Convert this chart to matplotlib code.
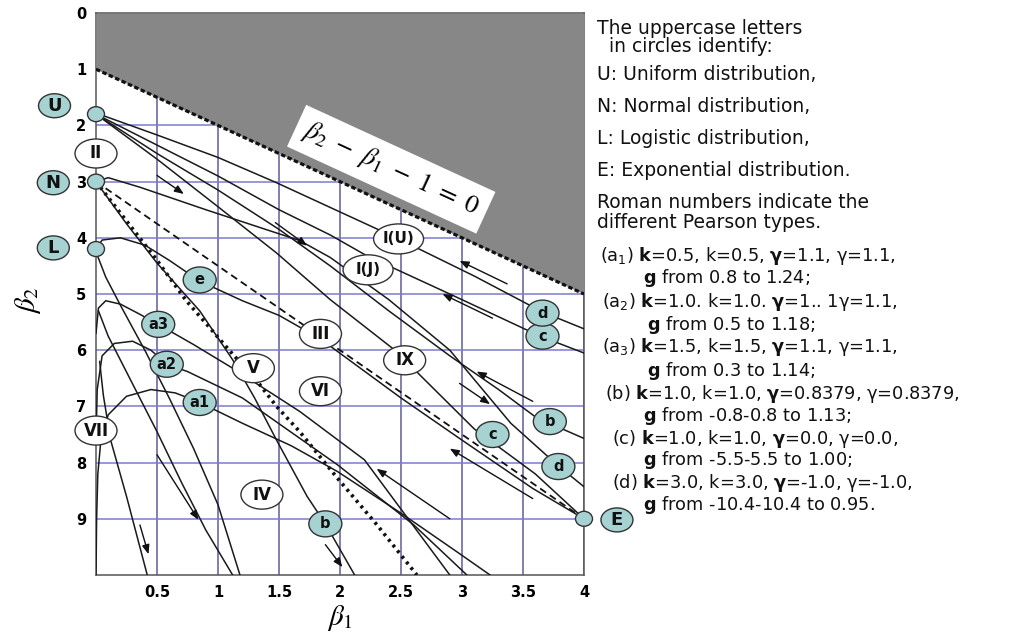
import numpy as np
import matplotlib
matplotlib.use('Agg')
import matplotlib.pyplot as plt
from matplotlib.patches import Ellipse

plt.rcParams.update({
    'font.family': 'DejaVu Sans',
    'mathtext.fontset': 'custom',
    'mathtext.rm': 'DejaVu Sans',
    'mathtext.bf': 'DejaVu Sans:bold',
    'mathtext.it': 'DejaVu Sans:italic',
})

# Limit line and the two Pearson reference lines (beta1, beta2)
limit_b1 = [0, 4]
limit_b2 = [1, 5]
type3_b1 = [0, 4]
type3_b2 = [3, 9]
type5_curve = [(0, 3), (0.25, 3.7), (0.5, 4.4), (0.74, 5.12), (1.12, 6.07), (1.32, 6.55),
               (1.48, 7.0), (1.67, 7.45), (1.98, 8.28), (2.3, 9.1), (2.63, 10)]

# Trajectories
iu_curve = [(0, 1.78), (0.5, 2.17), (1.0, 2.57), (1.48, 3.02), (2.08, 3.62), (2.48, 4.02),
            (3.1, 4.68), (3.66, 5.32), (4.0, 5.62)]
ij_curve = [(0, 1.8), (0.5, 2.35), (1.0, 2.9), (1.5, 3.5), (1.92, 3.95), (2.22, 4.32),
            (2.9, 5.0), (3.64, 5.75), (4.0, 6.05)]
ix_curve = [(0, 1.8), (0.5, 2.6), (0.99, 3.43), (1.48, 4.27), (1.92, 5.1), (2.45, 6.0),
            (3.1, 7.4), (3.6, 8.2), (4.0, 9.0)]
b_right_curve = [(0, 1.8), (0.5, 2.5), (1.0, 3.15), (1.5, 3.85), (1.92, 4.5), (2.4, 5.3),
                 (2.9, 6.1), (3.3, 6.7), (3.61, 7.2), (4.0, 7.57)]
d_low_curve = [(0, 3), (0.1, 2.93), (0.36, 3.1), (0.9, 3.5), (1.67, 4.05), (1.92, 4.35),
               (2.4, 5.1), (2.9, 6.0), (3.4, 7.3), (3.78, 8.04), (4.0, 8.43)]
e_curve = [(0, 4.2), (0.05, 4.04), (0.2, 4.0), (0.4, 4.13), (0.6, 4.4), (0.85, 4.77),
           (1.2, 5.12), (1.5, 5.38), (1.84, 5.8), (2.5, 6.85), (3.0, 7.6), (3.58, 8.46), (4.0, 9.0)]
b_low_curve = [(0, 3), (0.25, 3.75), (0.5, 4.45), (0.85, 5.3), (1.12, 6.17), (1.3, 6.85),
               (1.48, 7.6), (1.73, 8.6), (1.88, 9.09), (2.12, 10)]
a1_curve = [(0.0, 10), (0.005, 9.0), (0.015, 8.2), (0.04, 7.6), (0.1, 7.15), (0.25, 6.82),
            (0.45, 6.7), (0.65, 6.76), (0.85, 6.93), (1.2, 7.3), (1.6, 7.7), (1.98, 8.16),
            (2.5, 8.9), (2.96, 9.59), (3.23, 10)]
a2_curve = [(0.0, 7.6), (0.01, 6.7), (0.05, 6.1), (0.15, 5.88), (0.3, 5.84), (0.45, 6.0),
            (0.58, 6.25), (0.75, 6.38), (1.2, 6.85), (1.98, 8.04), (2.6, 9.1), (3.04, 10)]
a3_curve = [(0.0, 5.7), (0.02, 5.25), (0.08, 5.12), (0.2, 5.18), (0.35, 5.35), (0.51, 5.54),
            (0.8, 5.9), (1.12, 6.32), (1.67, 7.09), (2.2, 7.95), (2.9, 10)]
steep1_curve = [(0, 4.25), (0.08, 4.7), (0.2, 5.2), (0.4, 6.0), (0.6, 6.85), (0.8, 7.75),
                (1.0, 8.75), (1.18, 10)]
steep2_curve = [(0.02, 5.3), (0.1, 5.75), (0.3, 6.6), (0.5, 7.45), (0.7, 8.35), (0.9, 9.2),
                (1.12, 10)]
steep3_curve = [(0.03, 6.2), (0.06, 6.8), (0.12, 7.6), (0.25, 8.6), (0.42, 10)]

# Short direction arrows: start -> end
arrow_from_b1 = [0.5, 1.47, 3.37, 3.25, 3.58, 2.98, 3.58, 2.9, 1.88, 0.36, 0.5]
arrow_from_b2 = [2.89, 3.73, 4.82, 5.43, 6.91, 6.59, 8.64, 9.0, 9.46, 9.11, 7.86]
arrow_to_b1 = [0.72, 1.73, 2.98, 2.84, 3.12, 3.23, 2.9, 2.3, 2.02, 0.43, 0.84]
arrow_to_b2 = [3.22, 4.14, 4.41, 5.0, 6.38, 6.96, 7.75, 8.11, 9.86, 9.63, 9.02]

# Labels in circles
roman_text = ['II', 'VII', 'V', 'IV', 'VI', 'III', 'IX', 'I(U)', 'I(J)']
roman_b1 = [0.0, 0.0, 1.29, 1.36, 1.84, 1.84, 2.53, 2.48, 2.23]
roman_b2 = [2.5, 7.43, 6.32, 8.57, 6.73, 5.71, 6.18, 4.02, 4.57]
case_text = ['e', 'a3', 'a2', 'a1', 'b', 'b', 'c', 'c', 'd', 'd']
case_b1 = [0.85, 0.51, 0.58, 0.85, 1.88, 3.72, 3.25, 3.66, 3.79, 3.66]
case_b2 = [4.75, 5.54, 6.25, 6.93, 9.09, 7.27, 7.5, 5.75, 8.07, 5.34]
dist_text = ['U', 'N', 'L', 'E']
dist_b1 = [0, 0, 0, 4]
dist_b2 = [1.8, 3.0, 4.2, 9.0]
dist_label_b1 = [-0.34, -0.35, -0.35, 4.27]
dist_label_b2 = [1.65, 3.02, 4.18, 9.02]

xtick_vals = [0.5, 1, 1.5, 2, 2.5, 3, 3.5, 4]
xtick_text = ['0.5', '1', '1.5', '2', '2.5', '3', '3.5', '4']
ytick_vals = list(range(10))

notes = ['The uppercase letters', '  in circles identify:', 'U: Uniform distribution,',
         'N: Normal distribution,', 'L: Logistic distribution,', 'E: Exponential distribution.',
         'Roman numbers indicate the', 'different Pearson types.']
notes_y = [29, 47, 75, 106, 138, 171, 202, 222]
params = [r'($\mathrm{a}_1$) $\mathbf{k}$=0.5, k=0.5, $\mathbf{γ}$=1.1, γ=1.1,',
          r'$\mathbf{g}$ from 0.8 to 1.24;',
          r'($\mathrm{a}_2$) $\mathbf{k}$=1.0. k=1.0. $\mathbf{γ}$=1.. 1γ=1.1,',
          r'$\mathbf{g}$ from 0.5 to 1.18;',
          r'($\mathrm{a}_3$) $\mathbf{k}$=1.5, k=1.5, $\mathbf{γ}$=1.1, γ=1.1,',
          r'$\mathbf{g}$ from 0.3 to 1.14;',
          r'(b) $\mathbf{k}$=1.0, k=1.0, $\mathbf{γ}$=0.8379, γ=0.8379,',
          r'$\mathbf{g}$ from -0.8-0.8 to 1.13;',
          r'(c) $\mathbf{k}$=1.0, k=1.0, $\mathbf{γ}$=0.0, γ=0.0,',
          r'$\mathbf{g}$ from -5.5-5.5 to 1.00;',
          r'(d) $\mathbf{k}$=3.0, k=3.0, $\mathbf{γ}$=-1.0, γ=-1.0,',
          r'$\mathbf{g}$ from -10.4-10.4 to 0.95.']
params_x = [600, 643, 602, 647, 602, 647, 605, 643, 612, 643, 612, 643]
params_y = [256, 278, 302, 325, 347, 371, 394, 416, 439, 460, 483, 505]

W, H = 1014, 634
fig = plt.figure(figsize=(W / 100, H / 100), dpi=100)
ax = fig.add_axes([96 / W, 1 - 575 / H, 488 / W, 562 / H])
ax.set_xlim(0, 4)
ax.set_ylim(10, 0)
PX = 488 / 4.0   # pixels per beta1 unit
PY = 562 / 10.0  # pixels per beta2 unit

ax.set_xticks(xtick_vals)
ax.set_xticklabels(xtick_text, fontweight='bold', fontsize=10.5)
ax.set_yticks(ytick_vals)
ax.set_yticklabels([str(v) for v in ytick_vals], fontweight='bold', fontsize=10.5)
ax.tick_params(length=0, pad=7)
ax.set_axisbelow(True)
ax.xaxis.grid(True, color='#5c5c9c', lw=1.1)
ax.yaxis.grid(True, color='#7a7ad2', lw=1.1)
for s in ax.spines.values():
    s.set_color('#555555')
    s.set_linewidth(1.1)

# impossible region
ax.fill_between(limit_b1, 0, limit_b2, color='#878787', lw=0, zorder=4)
ax.plot(limit_b1, limit_b2, color='#111111', lw=2.3, ls=(0, (1.4, 0.8)), zorder=9)
ax.text(2.42, 2.78, r'$\beta_2\ -\ \beta_1\ -\ \mathit{1}\ =\ \mathit{0}$', rotation=-24.7,
        rotation_mode='anchor', ha='center', va='center', fontsize=19, math_fontfamily='stix',
        bbox=dict(boxstyle='square,pad=0.32', fc='white', ec='none'), zorder=8)

ax.plot(type3_b1, type3_b2, color='#111111', lw=1.3, ls=(0, (4, 2.5)), zorder=3)
t5_b1, t5_b2 = zip(*type5_curve)
ax.plot(t5_b1, t5_b2, color='#111111', lw=2.6, ls=(0, (0.8, 1.2)), zorder=3)

solid_curves = [iu_curve, ij_curve, ix_curve, b_right_curve, d_low_curve, e_curve,
                b_low_curve, a1_curve, a2_curve, a3_curve, steep1_curve, steep2_curve,
                steep3_curve]
for c in solid_curves:
    b1, b2 = zip(*c)
    ax.plot(b1, b2, color='#1a1a1a', lw=1.1, zorder=3, solid_joinstyle='round')

for x0, y0, x1, y1 in zip(arrow_from_b1, arrow_from_b2, arrow_to_b1, arrow_to_b2):
    ax.annotate('', xy=(x1, y1), xytext=(x0, y0), zorder=3,
                arrowprops=dict(arrowstyle='-|>,head_length=0.55,head_width=0.22',
                                color='#111111', lw=1.0, shrinkA=0, shrinkB=0))


def oval(x, y, label, wpx, hpx, fc, fs):
    ax.add_patch(Ellipse((x, y), wpx / PX, hpx / PY, fc=fc, ec='#333333', lw=1.0,
                         zorder=6, clip_on=False))
    if label:
        ax.text(x, y, label, ha='center', va='center', fontsize=fs, fontweight='bold',
                color='#111111', zorder=7, clip_on=False)


teal = '#a6d3d2'
for t, x, y in zip(roman_text, roman_b1, roman_b2):
    wide = len(t) > 3
    oval(x, y, t, 50 if wide else 42, 30 if wide else 29, 'white', 11 if wide else 12)
for t, x, y in zip(case_text, case_b1, case_b2):
    oval(x, y, t, 33, 26, teal, 10.5)
for t, x, y, lx, ly in zip(dist_text, dist_b1, dist_b2, dist_label_b1, dist_label_b2):
    oval(x, y, '', 17, 15, teal, 10)
    oval(lx, ly, t, 32, 24, teal, 13)

fig.text(28 / W, 1 - 300 / H, r'$\beta_2$', rotation=90, fontsize=21, ha='center',
         va='center', math_fontfamily='stix')
fig.text(340 / W, 1 - 618 / H, r'$\beta_1$', fontsize=21, ha='center', va='center',
         math_fontfamily='stix')

for t, y in zip(notes, notes_y):
    fig.text(597 / W, 1 - y / H, t, fontsize=13.5, ha='left', va='center', color='#111111')
for t, x, y in zip(params, params_x, params_y):
    fig.text(x / W, 1 - y / H, t, fontsize=12.8, ha='left', va='center', color='#111111')

fig.savefig('out.png', dpi=100, facecolor='white')
